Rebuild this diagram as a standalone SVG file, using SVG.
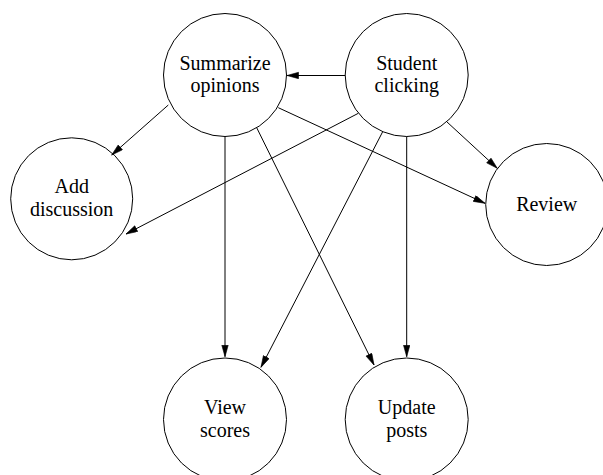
<svg xmlns="http://www.w3.org/2000/svg" width="603" height="475" viewBox="0 0 603 475">
<style>
.node circle{fill:none;stroke:#000;stroke-width:1}
.node text{font-family:"Liberation Serif","Times New Roman",serif;font-size:20px;text-anchor:middle;fill:#000}
.edge line{stroke:#000;stroke-width:1;marker-end:url(#ah)}
</style>
<defs>
<marker id="ah" markerUnits="userSpaceOnUse" markerWidth="13" markerHeight="8" refX="12" refY="3.5" orient="auto">
<path d="M0.5,0.3 L12,3.5 L0.5,6.7 z" fill="#000" stroke="#000" stroke-width="0.6"/>
</marker>
</defs>
<rect width="603" height="475" fill="#fff"/>
<g id="edges" class="edge">
<line x1="345" y1="75.5" x2="287" y2="75.5"/>
<line x1="168.3" y1="105" x2="111.7" y2="155"/>
<line x1="358.3" y1="113.3" x2="126" y2="234"/>
<line x1="278.3" y1="107.7" x2="485" y2="203.3"/>
<line x1="446.7" y1="121.7" x2="497.3" y2="168.3"/>
<line x1="225" y1="136.5" x2="225" y2="356.7"/>
<line x1="256.7" y1="127.7" x2="374" y2="365"/>
<line x1="382.7" y1="131.7" x2="261" y2="367.3"/>
<line x1="406.7" y1="136.5" x2="406.7" y2="356.7"/>
</g>
<g id="summarize" class="node">
<circle cx="225" cy="75" r="61.5"/>
<text x="225" y="70">Summarize</text>
<text x="225" y="92">opinions</text>
</g>
<g id="student" class="node">
<circle cx="406.7" cy="75" r="61.5"/>
<text x="406.7" y="70">Student</text>
<text x="406.7" y="92">clicking</text>
</g>
<g id="add" class="node">
<circle cx="71.7" cy="198.8" r="61"/>
<text x="71.7" y="192.5">Add</text>
<text x="71.7" y="215.5">discussion</text>
</g>
<g id="review" class="node">
<circle cx="546.7" cy="204.5" r="61"/>
<text x="546.7" y="210.7">Review</text>
</g>
<g id="view" class="node">
<circle cx="225" cy="419.5" r="61.5"/>
<text x="225" y="414">View</text>
<text x="225" y="436.5">scores</text>
</g>
<g id="update" class="node">
<circle cx="406.7" cy="419.5" r="61.5"/>
<text x="406.7" y="414">Update</text>
<text x="406.7" y="436.5">posts</text>
</g>
</svg>
